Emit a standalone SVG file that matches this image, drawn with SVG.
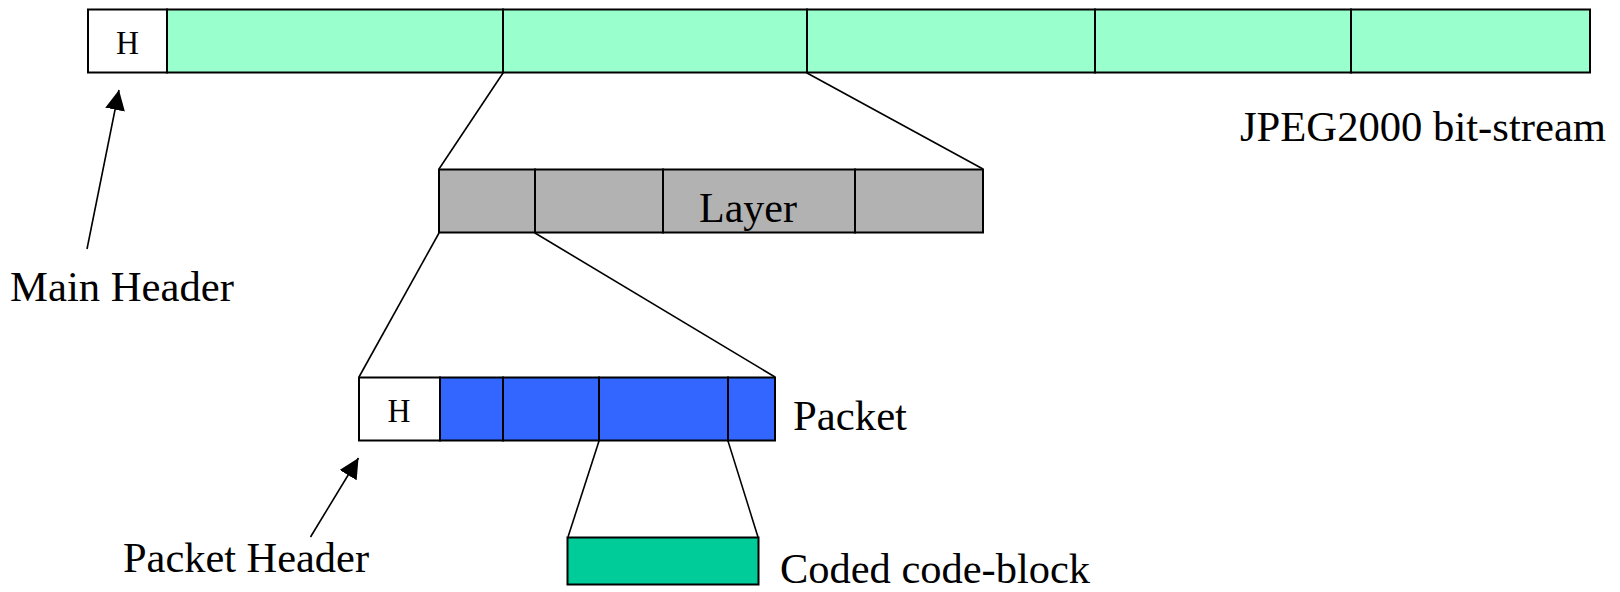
<svg xmlns="http://www.w3.org/2000/svg" width="1620" height="592" viewBox="0 0 1620 592">
<style>
.b{stroke:#000;stroke-width:2}
.w{fill:#fff}
.g{fill:#99FFCC}
.l{fill:#B2B2B2}
.p{fill:#3366FF}
.c{fill:#00CC99}
.t{font-family:"Liberation Serif","Times New Roman",serif;font-size:43px;fill:#000}
.h{font-family:"Liberation Serif","Times New Roman",serif;font-size:33px;fill:#000;text-anchor:middle}
.ln{stroke:#000;stroke-width:1.6;fill:none}
</style>
<defs>
<marker id="ah" viewBox="0 0 10 10" refX="10" refY="5" markerWidth="20" markerHeight="20" markerUnits="userSpaceOnUse" orient="auto">
<path d="M0,0 L10,5 L0,10 z" fill="#000"/>
</marker>
</defs>
<g id="bitstream">
<rect class="b w" x="88" y="9.5" width="79" height="63"/>
<text class="h" x="127.5" y="54" textLength="23" lengthAdjust="spacingAndGlyphs">H</text>
<rect class="b g" x="167" y="9.5" width="336" height="63"/>
<rect class="b g" x="503" y="9.5" width="304" height="63"/>
<rect class="b g" x="807" y="9.5" width="288" height="63"/>
<rect class="b g" x="1095" y="9.5" width="256" height="63"/>
<rect class="b g" x="1351" y="9.5" width="239" height="63"/>
<text class="t" x="1240" y="141" textLength="366" lengthAdjust="spacingAndGlyphs">JPEG2000 bit-stream</text>
</g>
<g id="layer">
<rect class="b l" x="439" y="169.5" width="96" height="63"/>
<rect class="b l" x="535" y="169.5" width="128" height="63"/>
<rect class="b l" x="663" y="169.5" width="192" height="63"/>
<rect class="b l" x="855" y="169.5" width="128" height="63"/>
<text class="t" x="699" y="222" textLength="98" lengthAdjust="spacingAndGlyphs">Layer</text>
</g>
<g id="packet">
<rect class="b w" x="359" y="377.5" width="81" height="63"/>
<text class="h" x="399" y="422" textLength="23" lengthAdjust="spacingAndGlyphs">H</text>
<rect class="b p" x="440" y="377.5" width="63" height="63"/>
<rect class="b p" x="503" y="377.5" width="96" height="63"/>
<rect class="b p" x="599" y="377.5" width="129" height="63"/>
<rect class="b p" x="728" y="377.5" width="47" height="63"/>
<text class="t" x="793" y="430" textLength="114" lengthAdjust="spacingAndGlyphs">Packet</text>
</g>
<g id="codeblock">
<rect class="b c" x="567.5" y="537.5" width="191" height="47"/>
<text class="t" x="780" y="583" textLength="310" lengthAdjust="spacingAndGlyphs">Coded code-block</text>
</g>
<g id="main-header">
<text class="t" x="10" y="301" textLength="224" lengthAdjust="spacingAndGlyphs">Main Header</text>
</g>
<g id="packet-header">
<text class="t" x="123" y="572" textLength="246" lengthAdjust="spacingAndGlyphs">Packet Header</text>
</g>
<g id="connectors">
<line class="ln" x1="503" y1="73" x2="439" y2="169"/>
<line class="ln" x1="807" y1="73" x2="983" y2="169"/>
<line class="ln" x1="439" y1="233" x2="359" y2="377"/>
<line class="ln" x1="535" y1="233" x2="775" y2="377"/>
<line class="ln" x1="599" y1="441" x2="568" y2="537"/>
<line class="ln" x1="728" y1="441" x2="758" y2="537"/>
<line class="ln" x1="87" y1="249" x2="119" y2="90" marker-end="url(#ah)"/>
<line class="ln" x1="310.5" y1="537" x2="358.5" y2="458" marker-end="url(#ah)"/>
</g>
</svg>
